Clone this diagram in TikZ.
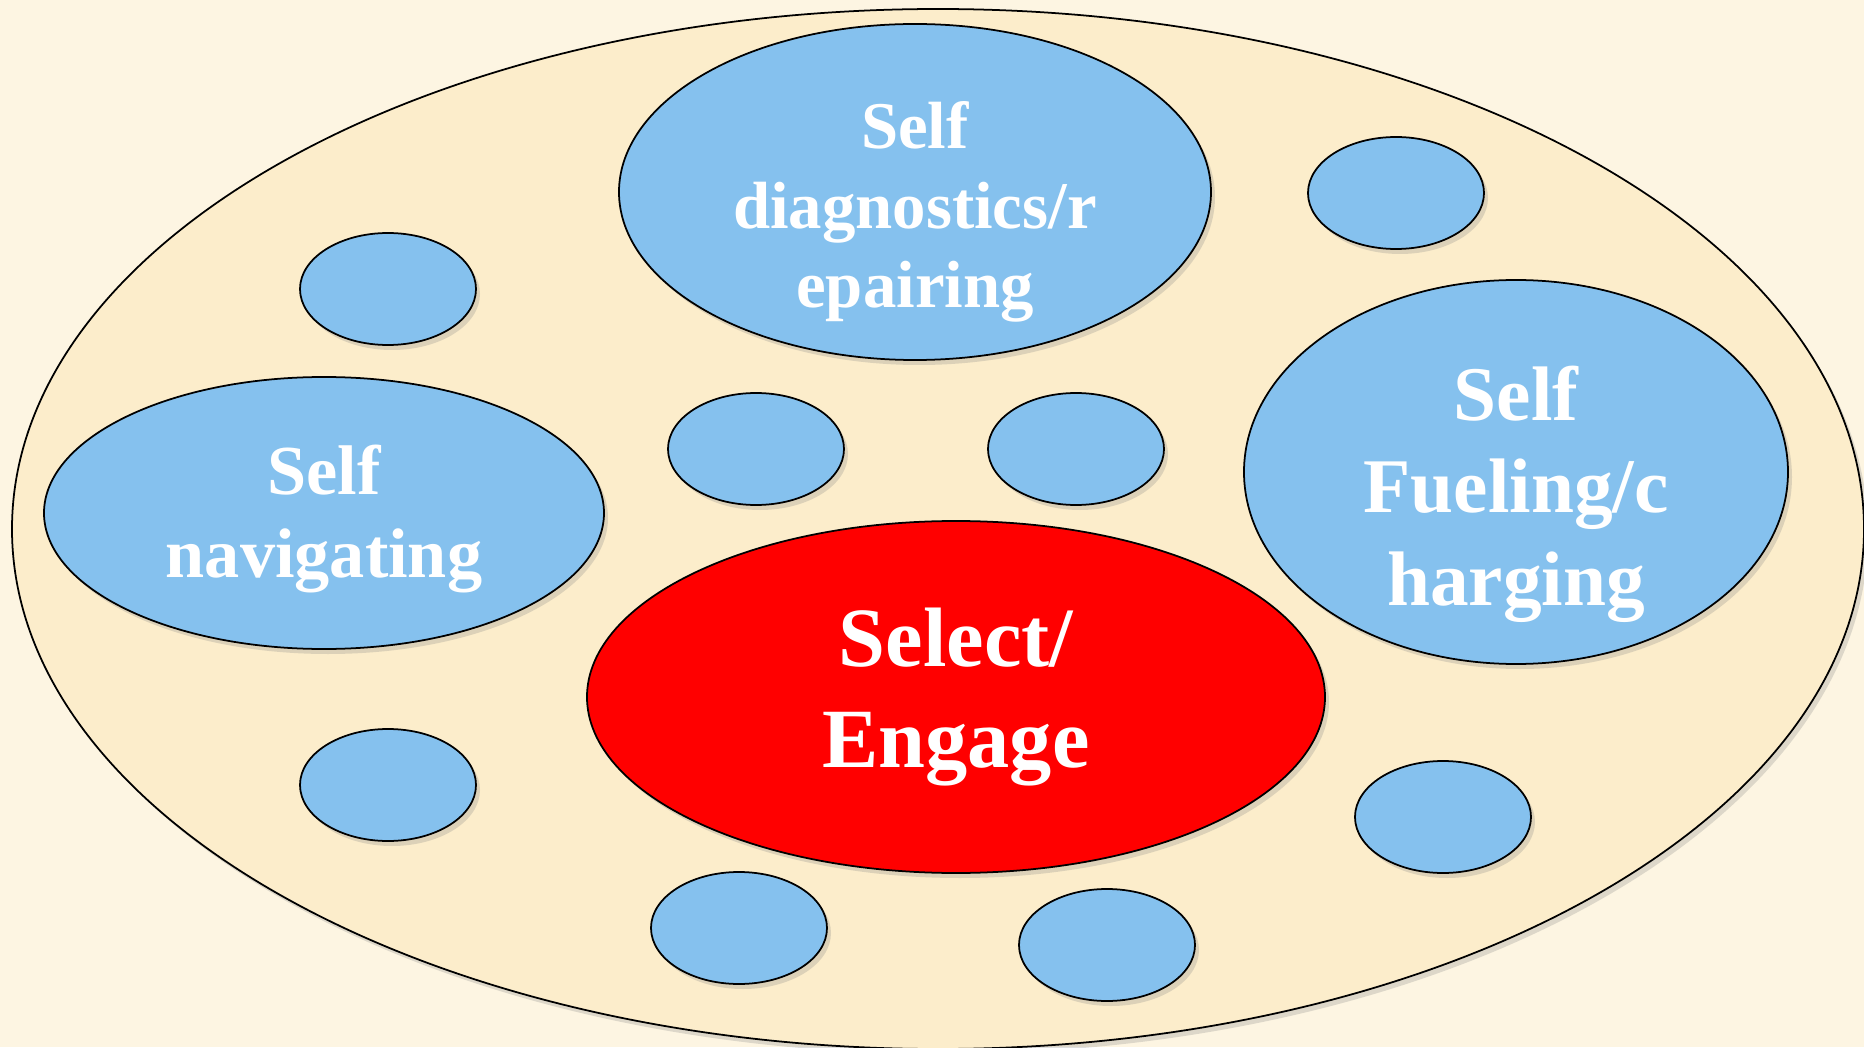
\documentclass[tikz,border=0pt]{standalone}
\usepackage{fontspec}
\setmainfont{Liberation Serif}
\usetikzlibrary{shapes.geometric,shadows}
\definecolor{bgcol}{HTML}{FDF5E2}
\definecolor{outercol}{HTML}{FCEDCB}
\definecolor{bluecol}{HTML}{85C1EE}
\definecolor{redcol}{HTML}{FF0000}
\tikzset{
  blob/.style={ellipse, draw=black, line width=0.5pt, inner sep=0pt,
    drop shadow={shadow xshift=0.04cm, shadow yshift=-0.05cm, opacity=0.25}},
  bluebl/.style={blob, fill=bluecol},
  smallbl/.style={bluebl, minimum width=1.76cm, minimum height=1.12cm},
  lbl/.style={text=white, font=\bfseries, align=center, inner sep=0pt}
}
\begin{document}
\begin{tikzpicture}
\useasboundingbox (0,0) rectangle (18.64,10.47);
\fill[bgcol] (0,0) rectangle (18.64,10.47);
\begin{scope}
\clip (0,0) rectangle (18.64,10.47);
\node[blob, fill=outercol, minimum width=18.52cm, minimum height=10.40cm] (outer) at (9.38,5.18) {};
\end{scope}
% big ellipses
\node[bluebl, minimum width=5.92cm, minimum height=3.36cm] (diag) at (9.15,8.55) {};
\node[bluebl, minimum width=5.60cm, minimum height=2.72cm] (nav) at (3.24,5.34) {};
\node[bluebl, minimum width=5.44cm, minimum height=3.84cm] (fuel) at (15.16,5.75) {};
\node[blob, fill=redcol, minimum width=7.38cm, minimum height=3.52cm] (sel) at (9.56,3.50) {};
% small ellipses
\node[smallbl] (s1) at (3.88,7.58) {};
\node[smallbl] (s2) at (13.96,8.54) {};
\node[smallbl] (s3) at (7.56,5.98) {};
\node[smallbl] (s4) at (10.76,5.98) {};
\node[smallbl] (s5) at (3.88,2.62) {};
\node[smallbl] (s6) at (14.43,2.30) {};
\node[smallbl] (s7) at (7.39,1.19) {};
\node[smallbl] (s8) at (11.07,1.02) {};
% labels
\node[lbl, font=\fontsize{19}{22.7}\selectfont\bfseries] (tdiag) at ([yshift=-0.2cm]diag.center) {Self\\diagnostics/r\\epairing};
\node[lbl, font=\fontsize{20}{23.6}\selectfont\bfseries] (tnav) at ([yshift=-0.06cm]nav.center) {Self\\navigating};
\node[lbl, font=\fontsize{22}{26.3}\selectfont\bfseries] (tfuel) at ([yshift=-0.22cm]fuel.center) {Self\\Fueling/c\\harging};
\node[lbl, font=\fontsize{24}{28.7}\selectfont\bfseries] (tsel) at (sel) {Select/\\Engage};
\end{tikzpicture}
\end{document}
